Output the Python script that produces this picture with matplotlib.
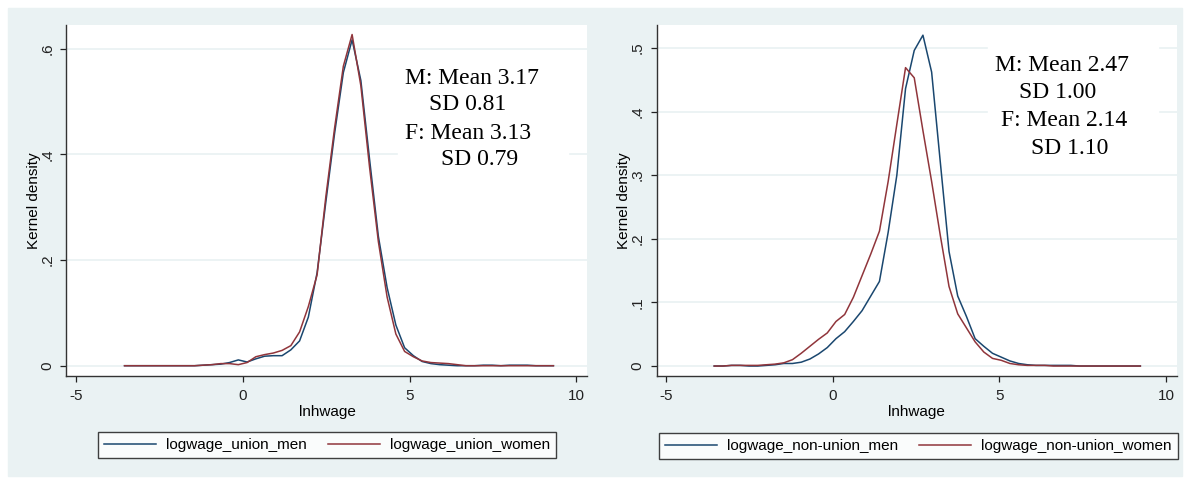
import matplotlib.pyplot as plt
import matplotlib.patches as mpatches
import numpy as np

plt.rcParams['axes.unicode_minus'] = False
plt.rcParams['font.family'] = ['Liberation Sans', 'DejaVu Sans']

# kernel density estimates, 50 evaluation points each
x_union = np.linspace(-3.54, 9.31, 50)
union_men = [0.000, 0.000, 0.000, 0.000, 0.000, 0.000, 0.000, 0.000, 0.000, 0.001,
             0.002, 0.003, 0.006, 0.011, 0.007, 0.013, 0.018, 0.019, 0.019, 0.030,
             0.047, 0.092, 0.176, 0.310, 0.440, 0.555, 0.617, 0.540, 0.390, 0.245,
             0.148, 0.077, 0.034, 0.019, 0.008, 0.004, 0.002, 0.001, 0.000, 0.000,
             0.000, 0.001, 0.001, 0.000, 0.001, 0.001, 0.001, 0.000, 0.000, 0.000]
union_women = [0.000, 0.000, 0.000, 0.000, 0.000, 0.000, 0.000, 0.000, 0.000, 0.001,
               0.002, 0.004, 0.004, 0.002, 0.006, 0.017, 0.021, 0.024, 0.029, 0.038,
               0.064, 0.112, 0.172, 0.320, 0.450, 0.567, 0.627, 0.530, 0.375, 0.235,
               0.130, 0.060, 0.027, 0.017, 0.009, 0.006, 0.005, 0.004, 0.002, 0.000,
               0.000, 0.000, 0.000, 0.000, 0.000, 0.000, 0.000, 0.000, 0.000, 0.000]

x_nonunion = np.linspace(-3.55, 9.23, 50)
nonunion_men = [0.000, 0.000, 0.001, 0.001, 0.000, 0.000, 0.001, 0.002, 0.004, 0.004,
                0.006, 0.011, 0.019, 0.029, 0.043, 0.054, 0.070, 0.087, 0.110, 0.133,
                0.210, 0.300, 0.436, 0.496, 0.520, 0.462, 0.320, 0.180, 0.110, 0.078,
                0.043, 0.031, 0.020, 0.014, 0.008, 0.004, 0.002, 0.001, 0.001, 0.001,
                0.001, 0.001, 0.000, 0.000, 0.000, 0.000, 0.000, 0.000, 0.000, 0.000]
nonunion_women = [0.000, 0.000, 0.001, 0.001, 0.001, 0.001, 0.002, 0.003, 0.005, 0.010,
                  0.020, 0.031, 0.042, 0.052, 0.070, 0.081, 0.108, 0.142, 0.176, 0.212,
                  0.290, 0.380, 0.469, 0.453, 0.370, 0.290, 0.205, 0.125, 0.082, 0.060,
                  0.038, 0.022, 0.012, 0.009, 0.004, 0.002, 0.001, 0.001, 0.001, 0.000,
                  0.000, 0.000, 0.000, 0.000, 0.000, 0.000, 0.000, 0.000, 0.000, 0.000]

xticks = [-5, 0, 5, 10]
yticks_union = [0, 0.2, 0.4, 0.6]
yticks_nonunion = [0, 0.1, 0.2, 0.3, 0.4, 0.5]

stats_union = ['M: Mean 3.17', 'SD 0.81', 'F: Mean 3.13', 'SD 0.79']
stats_nonunion = ['M: Mean 2.47', 'SD 1.00', 'F: Mean 2.14', 'SD 1.10']

blue = '#1a476f'
red = '#90353b'
bg = '#eaf2f3'

fig = plt.figure(figsize=(11.87, 4.79), dpi=100)
fig.patches.append(mpatches.Rectangle((0.0067, 0.0063), 0.989, 0.977,
                                      transform=fig.transFigure, color=bg, zorder=-1))


def ylab(v):
    return '0' if v == 0 else ('%.1f' % v).lstrip('0')


def panel(rect, x, men, women, yticks, ylim, names, stats, text_pos, box, leg_center):
    ax = fig.add_axes(rect)
    ax.set_facecolor('white')
    ax.set_axisbelow(True)
    ax.plot(x, men, color=blue, lw=1.1, label=names[0], zorder=3)
    ax.plot(x, women, color=red, lw=1.1, label=names[1], zorder=3)
    ax.set_xlim(-5.28, 10.33)
    ax.set_ylim(*ylim)
    ax.set_xticks(xticks)
    ax.set_yticks(yticks)
    ax.set_yticklabels([ylab(v) for v in yticks], rotation=90, va='center')
    ax.grid(axis='y', color=bg, lw=1.3)
    for s in ['top', 'right']:
        ax.spines[s].set_visible(False)
    for s in ['left', 'bottom']:
        ax.spines[s].set_color('#333333')
        ax.spines[s].set_linewidth(1.0)
    ax.tick_params(axis='x', length=4.5, width=0.9, pad=5, labelsize=11, colors='#222222')
    ax.tick_params(axis='y', length=4.5, width=0.9, pad=4, labelsize=11, colors='#222222')
    ax.set_xlabel('lnhwage', fontsize=11, va='center')
    ax.set_ylabel('Kernel density', fontsize=11, va='center')
    ax.xaxis.set_label_coords(0.5, -0.1026)
    ax.yaxis.set_label_coords(-0.0624, 0.5)

    ax.add_patch(mpatches.Rectangle((box[0], box[1]), box[2] - box[0], box[3] - box[1],
                                    transform=ax.transAxes, color='white', zorder=1))
    for s, (tx, ty) in zip(stats, text_pos):
        ax.text(tx, ty, s, transform=ax.transAxes, ha='left', va='center',
                fontsize=17, family=['Liberation Serif', 'DejaVu Serif'], zorder=4)

    leg = ax.legend(loc='center', bbox_to_anchor=leg_center, bbox_transform=fig.transFigure,
                    ncol=2, fontsize=11, frameon=True, fancybox=False, borderpad=0.4,
                    handlelength=3.4, handletextpad=0.65, columnspacing=1.4,
                    borderaxespad=0)
    leg.get_frame().set_edgecolor('#111111')
    leg.get_frame().set_linewidth(1.0)
    leg.get_frame().set_facecolor('white')
    return ax


panel([0.0560, 0.2150, 0.4389, 0.7328], x_union, union_men, union_women,
      yticks_union, (-0.0195, 0.645), ['logwage_union_men', 'logwage_union_women'],
      stats_union, [(0.650, 0.848), (0.695, 0.774), (0.650, 0.692), (0.719, 0.616)],
      (0.636, 0.553, 0.963, 0.920), (0.2755, 0.071))

panel([0.5531, 0.2150, 0.4385, 0.7328], x_nonunion, nonunion_men, nonunion_women,
      yticks_nonunion, (-0.0157, 0.536), ['logwage_non-union_men', 'logwage_non-union_women'],
      stats_nonunion, [(0.650, 0.885), (0.696, 0.809), (0.661, 0.727), (0.719, 0.649)],
      (0.637, 0.587, 0.963, 0.957), (0.7734, 0.069))

fig.savefig('out.png', dpi=100)
